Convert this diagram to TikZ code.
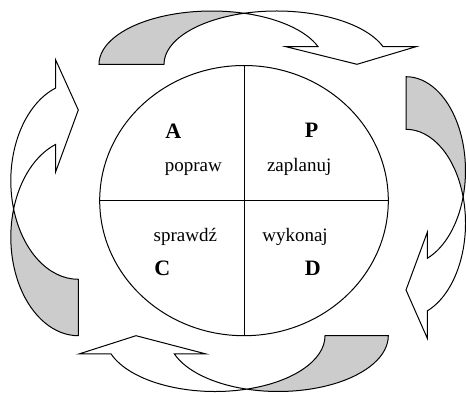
\documentclass[tikz,border=0pt]{standalone}
\usepackage{fontspec}
\setmainfont{Liberation Serif}
\usetikzlibrary{shapes.geometric}
\begin{document}
\begin{tikzpicture}[x=1pt,y=-1pt,line width=1pt,line join=miter,
  back/.style={draw=black,fill=black!20},
  front/.style={draw=black,fill=white},
  lbl/.style={font=\fontsize{22}{26}\selectfont\bfseries,anchor=base,inner sep=0},
  word/.style={font=\fontsize{19}{23}\selectfont,anchor=base,inner sep=0},
  topE/.style={x radius=112.7pt,y radius=53.3pt},
  rightE/.style={x radius=59.5pt,y radius=93.9pt},
  botE/.style={x radius=110pt,y radius=55.8pt},
  leftE/.style={x radius=67.5pt,y radius=98.5pt}]
\useasboundingbox (0,0) rectangle (466,393);
% top arrow
\path[back] (99,64.3) arc[start angle=180,end angle=73.24,topE]
  arc[start angle=106.76,end angle=180,topE] -- cycle;
\path[front] (244.2,13.27) arc[start angle=106.76,end angle=19.28,topE]
  -- (416,46.7) -- (357,64.3) -- (286,46.7) -- (318.08,46.7)
  arc[start angle=19.28,end angle=73.24,topE] -- cycle;
% right arrow
\path[back] (406,76.7) arc[start angle=90,end angle=-16.27,rightE]
  arc[start angle=16.27,end angle=90,rightE] -- cycle;
\path[front] (463.12,196.9) arc[start angle=16.27,end angle=-69.02,rightE]
  -- (427.3,338.3) -- (406,290) -- (427.3,232.3) -- (427.3,258.28)
  arc[start angle=-69.02,end angle=-16.27,rightE] -- cycle;
% bottom arrow
\path[back] (388.3,335.7) arc[start angle=0,end angle=-106.72,botE]
  arc[start angle=-73.28,end angle=0,botE] -- cycle;
\path[front] (246.65,389.14) arc[start angle=-73.28,end angle=-161.0,botE]
  -- (79.3,353.87) -- (136,335.7) -- (205.7,353.87) -- (174.3,353.87)
  arc[start angle=-161.0,end angle=-106.72,botE] -- cycle;
% left arrow
\path[back] (78.3,335.7) arc[start angle=270,end angle=163.36,leftE]
  arc[start angle=196.64,end angle=270,leftE] -- cycle;
\path[front] (13.63,209.0) arc[start angle=196.64,end angle=109.56,leftE]
  -- (55.7,60) -- (78.3,110) -- (55.7,171.7) -- (55.7,144.38)
  arc[start angle=109.56,end angle=163.36,leftE] -- cycle;
% central ellipse
\node[draw,ellipse,inner sep=0,outer sep=0,minimum width=288.6pt,minimum height=270.2pt] (E) at (244,200.6) {};
\draw (E.north) -- (E.south);
\draw (E.west) -- (E.east);
% labels
\node[lbl] (A) at (173.3,138.3) {A};
\node[lbl] (P) at (311.7,137.7) {P};
\node[lbl] (C) at (162.2,275) {C};
\node[lbl] (D) at (312.7,275) {D};
\node[word] (popraw) at (193.3,171.7) {popraw};
\node[word] (zaplanuj) at (299.2,171.7) {zaplanuj};
\node[word] (sprawdz) at (185.3,241) {sprawdź};
\node[word] (wykonaj) at (295,241) {wykonaj};
\end{tikzpicture}
\end{document}
